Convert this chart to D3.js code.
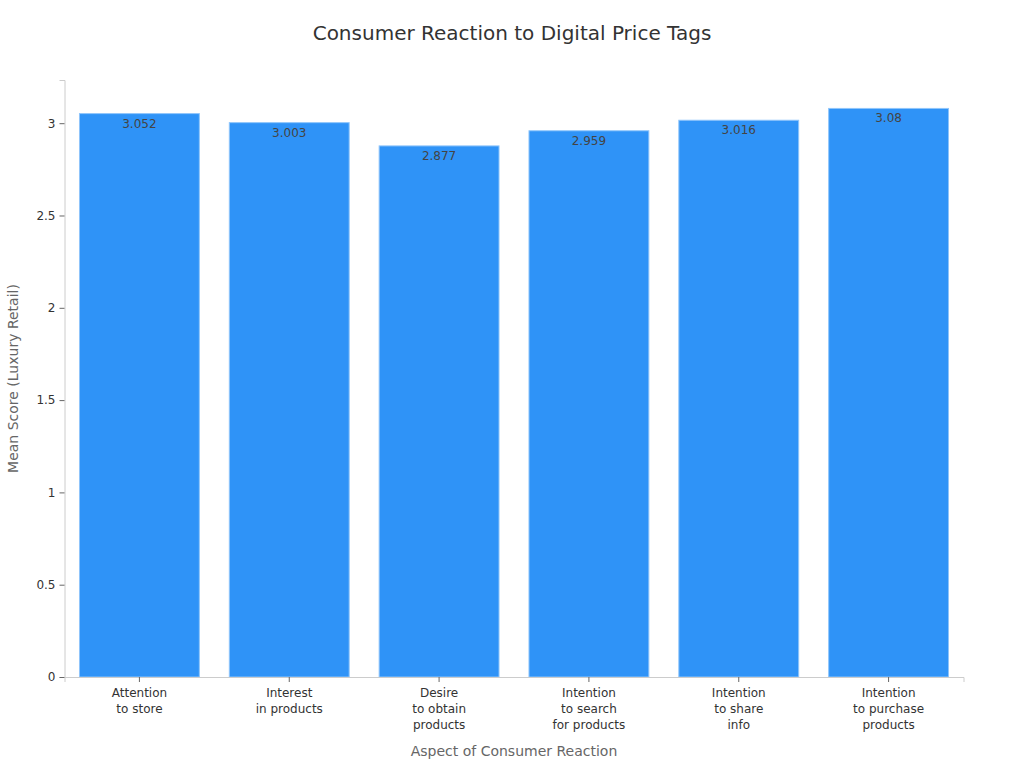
<!DOCTYPE html>
<html>
<head>
<meta charset="utf-8">
<script src="https://cdn.jsdelivr.net/npm/d3@7"></script>
<style>
  body { margin: 0; background: #fff; }
  text { font-family: "DejaVu Sans", sans-serif; }
</style>
</head>
<body>
<svg id="chart" width="1024" height="768"></svg>
<script>
const categories = [
  ["Attention", "to store"],
  ["Interest", "in products"],
  ["Desire", "to obtain", "products"],
  ["Intention", "to search", "for products"],
  ["Intention", "to share", "info"],
  ["Intention", "to purchase", "products"]
];
const meanScores = [3.052, 3.003, 2.877, 2.959, 3.016, 3.08];
const yTicks = [0, 0.5, 1, 1.5, 2, 2.5, 3];

const svg = d3.select("#chart");
const margin = {top: 80, right: 60.5, bottom: 91, left: 64.5};
const width = 1024 - margin.left - margin.right;
const height = 768 - margin.top - margin.bottom;

const g = svg.append("g").attr("transform", `translate(${margin.left},${margin.top})`);

const x = d3.scaleBand()
  .domain(d3.range(categories.length))
  .range([0, width])
  .paddingInner(0.2)
  .paddingOuter(0.1);

const y = d3.scaleLinear()
  .domain([0, d3.max(meanScores) * 1.05])
  .range([height, 0]);

// title
svg.append("text")
  .attr("x", 512).attr("y", 40)
  .attr("text-anchor", "middle")
  .attr("font-size", 20)
  .attr("fill", "#333")
  .text("Consumer Reaction to Digital Price Tags");

// bars
g.selectAll("rect.bar")
  .data(meanScores)
  .join("rect")
    .attr("class", "bar")
    .attr("x", (d, i) => x(i))
    .attr("width", x.bandwidth())
    .attr("y", d => y(d))
    .attr("height", d => height - y(d))
    .attr("fill", "#2f93f7")
    .attr("stroke", "#8fc5fb")
    .attr("stroke-width", 1);

// value labels
g.selectAll("text.val")
  .data(meanScores)
  .join("text")
    .attr("class", "val")
    .attr("x", (d, i) => x(i) + x.bandwidth() / 2)
    .attr("y", d => y(d) + 14)
    .attr("text-anchor", "middle")
    .attr("font-size", 12)
    .attr("fill", "#444")
    .text(d => d);

// y axis
const yAxis = g.append("g")
  .call(d3.axisLeft(y).tickValues(yTicks).tickSize(5).tickPadding(4).tickFormat(d => d));
yAxis.select(".domain").attr("stroke", "#ccc");
yAxis.selectAll(".tick line").attr("stroke", "#666");
yAxis.selectAll(".tick text").attr("font-size", 12).attr("fill", "#333")
  .attr("font-family", "DejaVu Sans, sans-serif");

// x axis
const xAxis = g.append("g")
  .attr("transform", `translate(0,${height})`)
  .call(d3.axisBottom(x).tickSize(5).tickPadding(4).tickFormat(""));
xAxis.select(".domain").attr("stroke", "#ccc");
xAxis.selectAll(".tick line").attr("stroke", "#666");
xAxis.selectAll(".tick").each(function(d) {
  const t = d3.select(this).append("text")
    .attr("y", 20)
    .attr("text-anchor", "middle")
    .attr("font-size", 12)
    .attr("fill", "#333")
    .attr("font-family", "DejaVu Sans, sans-serif");
  categories[d].forEach((line, k) => {
    t.append("tspan").attr("x", 0).attr("dy", k === 0 ? 0 : 16).text(line);
  });
});

// axis titles
svg.append("text")
  .attr("x", margin.left + width / 2).attr("y", 756)
  .attr("text-anchor", "middle")
  .attr("font-size", 14)
  .attr("fill", "#666")
  .text("Aspect of Consumer Reaction");

svg.append("text")
  .attr("transform", `translate(18,${margin.top + height / 2}) rotate(-90)`)
  .attr("text-anchor", "middle")
  .attr("font-size", 14)
  .attr("fill", "#666")
  .text("Mean Score (Luxury Retail)");
</script>
</body>
</html>
